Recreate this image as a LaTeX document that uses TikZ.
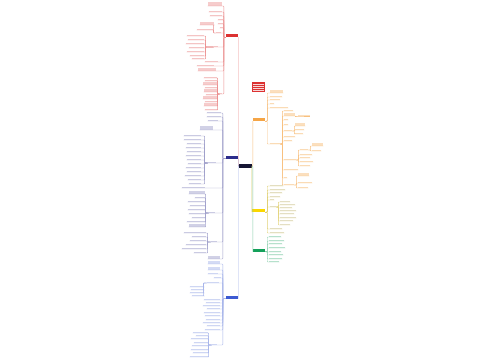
\documentclass[tikz,border=0pt]{standalone}
\usepackage{tikz}
\definecolor{mm_ctr}{RGB}{22,22,52}
\definecolor{mm_red}{RGB}{220,50,50}
\definecolor{mm_ind}{RGB}{45,45,140}
\definecolor{mm_blu}{RGB}{60,90,210}
\definecolor{mm_org}{RGB}{245,165,70}
\definecolor{mm_yel}{RGB}{250,215,0}
\definecolor{mm_grn}{RGB}{20,160,90}
\tikzstyle{ctr}=[fill=mm_ctr,inner sep=0pt,minimum width=13pt,minimum height=4.5pt]
\tikzstyle{br}=[inner sep=0pt,minimum width=12pt,minimum height=3pt]
\tikzstyle{lf}=[inner sep=0pt,minimum height=1.3pt]
\tikzstyle{lfl}=[lf,anchor=south east]
\tikzstyle{lfr}=[lf,anchor=south west]
\tikzstyle{ln}=[line width=0.4pt,rounded corners=0.6pt]

\begin{document}
\begin{tikzpicture}[x=1pt,y=-1pt]
    \fill[white] (0,0) rectangle (500,360);
    \useasboundingbox (0,0) rectangle (500,360);
    % centre and main branches
    \node [style=ctr] (ctr) at (245.5,166) {};
    \node [style=br,fill=mm_red] (red) at (232,35.5) {};
    \node [style=br,fill=mm_ind] (ind) at (232,157) {};
    \node [style=br,fill=mm_blu] (blu) at (232,297) {};
    \node [style=br,fill=mm_org] (org) at (259,119.5) {};
    \node [style=br,fill=mm_yel,minimum width=13pt] (yel) at (258.5,210.5) {};
    \node [style=br,fill=mm_grn] (grn) at (259,250) {};
    \node [inner sep=0pt,fill=mm_red,minimum width=13pt,minimum height=10pt] (pic) at (258.5,87) {};
    \foreach \y in {84,86,88,90} \draw[white!80!mm_red,line width=0.3pt] ([xshift=1.5pt]pic.west|-0,\y) -- ([xshift=-1.5pt]pic.east|-0,\y);
    \draw [ln,draw=mm_red!55] (ctr.west) -| (red.south east);
    \draw [ln,draw=mm_ind!45] (ctr.west) -| (ind.south east);
    \draw [ln,draw=mm_blu!45] (ctr.west) -| (blu.south east);
    \draw [ln,draw=mm_org!70] (ctr.east) -| (org.south west);
    \draw [ln,draw=mm_yel!80!black!60] (ctr.east) -| (yel.south west);
    \draw [ln,draw=mm_grn!50] (ctr.east) -| (grn.south west);
    % red branch
    \foreach \y/\x/\w/\h [count=\i] in {6/222/14/4,12/222/13/1.3,16/222/12/1.3,20/223/5/1.3,24/223/5/1.3,28/223/3/1.3,62/218/13/1.3,66/214/17/1.3,71/216/18/3}{
        \node [lfl,fill=mm_red!25,minimum width=\w pt,minimum height=\h pt] (r\i) at (\x,\y) {};
        \draw [ln,draw=mm_red!55] (red.south west) -- ++(-2,0) |- (r\i.south east) -- (r\i.south west);
    }
    \node [lfl,fill=mm_red!25,minimum width=5pt] (ra) at (221,33) {};
    \node [lfl,fill=mm_red!25,minimum width=4pt] (rb) at (218,47) {};
    \node [lfl,fill=mm_red!25,minimum width=2pt] (rc) at (222,94) {};
    \foreach \s in {ra,rb,rc} \draw [ln,draw=mm_red!55] (red.south west) -- ++(-2,0) |- (\s.south east) -- (\s.south west);
    \foreach \y/\x/\w/\h [count=\i] in {25/214/14/3,30/213/16/1.3}{
        \node [lfl,fill=mm_red!25,minimum width=\w pt,minimum height=\h pt] (ra\i) at (\x,\y) {};
        \draw [ln,draw=mm_red!55] (ra.south west) -- ++(-2,0) |- (ra\i.south east) -- (ra\i.south west);
    }
    \foreach \y/\w [count=\i] in {36/17,40/16,44/18,48/15,52/17,56/14,59/12}{
        \node [lfl,fill=mm_red!25,minimum width=\w pt] (rb\i) at (204,\y) {};
        \draw [ln,draw=mm_red!55] (rb.south west) -- ++(-8,0) |- (rb\i.south east) -- (rb\i.south west);
    }
    \foreach \y/\w/\h [count=\i] in {78/13/1.3,81/12/1.3,85/14/3,88/12/1.3,92/13/3,95/11/1.3,99/14/3,102/12/1.3,106/13/3,110/12/1.3}{
        \node [lfl,fill=mm_red!25,minimum width=\w pt,minimum height=\h pt] (rc\i) at (217,\y) {};
        \draw [ln,draw=mm_red!55] (rc.south west) -- ++(-2,0) |- (rc\i.south east) -- (rc\i.south west);
    }
    % indigo branch
    \foreach \y/\x/\w/\h [count=\i] in {113/221/14/1.3,117/221/14/1.3,121/218/10/1.3,130/213/13/3.5,188/205/23/1.3,259/220/12/3}{
        \node [lfl,fill=mm_ind!22,minimum width=\w pt,minimum height=\h pt] (i\i) at (\x,\y) {};
        \draw [ln,draw=mm_ind!45] (ind.south west) -- ++(-3,0) |- (i\i.south east) -- (i\i.south west);
    }
    \node [lfl,fill=mm_ind!22,minimum width=8pt] (ia) at (216,163) {};
    \node [lfl,fill=mm_ind!22,minimum width=6pt] (ib) at (215,213) {};
    \node [lfl,fill=mm_ind!22,minimum width=6pt] (ic) at (217,242) {};
    \foreach \s in {ia,ib,ic} \draw [ln,draw=mm_ind!45] (ind.south west) -- ++(-3,0) |- (\s.south east) -- (\s.south west);
    \foreach \y/\w [count=\i] in {136/17,140/17,144/14,148/15,152/14,156/15,160/14,164/13,168/15,172/14,176/16,180/13,184/12}{
        \node [lfl,fill=mm_ind!22,minimum width=\w pt] (ia\i) at (201,\y) {};
        \draw [ln,draw=mm_ind!45] (ia.south west) -- ++(-3,0) |- (ia\i.south east) -- (ia\i.south west);
    }
    \foreach \y/\w/\h [count=\i] in {194/16/3,198/10/1.3,202/17/1.3,206/15/1.3,210/17/1.3,214/16/1.3,218/13/1.3,222/18/1.3,227/16/3}{
        \node [lfl,fill=mm_ind!22,minimum width=\w pt,minimum height=\h pt] (ib\i) at (205,\y) {};
        \draw [ln,draw=mm_ind!45] (ib.south west) -- ++(-3,0) |- (ib\i.south east) -- (ib\i.south west);
    }
    \foreach \y/\w [count=\i] in {233/22,237/14,241/16,245/20,249/24,253/12}{
        \node [lfl,fill=mm_ind!22,minimum width=\w pt] (ic\i) at (206,\y) {};
        \draw [ln,draw=mm_ind!45] (ic.south west) -- ++(-3,0) |- (ic\i.south east) -- (ic\i.south west);
    }
    % blue branch
    \foreach \y/\x/\w/\h [count=\i] in {264/220/12/3,270/220/12/3,274/218/10/1.3,278/221/7/1.3,300/220/16/1.3,303/220/14/1.3,306/220/17/1.3,309/220/13/1.3,313/220/16/1.3,316/220/15/1.3,320/220/14/1.3,323/220/17/1.3,326/220/13/1.3,330/220/15/1.3}{
        \node [lfl,fill=mm_blu!22,minimum width=\w pt,minimum height=\h pt] (b\i) at (\x,\y) {};
        \draw [ln,draw=mm_blu!45] (blu.south west) -- ++(-3,0) |- (b\i.south east) -- (b\i.south west);
    }
    \node [lfl,fill=mm_blu!22,minimum width=12pt] (ba) at (219,283) {};
    \node [lfl,fill=mm_blu!22,minimum width=5pt] (bb) at (217,345) {};
    \foreach \s in {ba,bb} \draw [ln,draw=mm_blu!45] (blu.south west) -- ++(-3,0) |- (\s.south east) -- (\s.south west);
    \foreach \y/\w [count=\i] in {287/14,290/13,293/14,296/12}{
        \node [lfl,fill=mm_blu!22,minimum width=\w pt] (ba\i) at (204,\y) {};
        \draw [ln,draw=mm_blu!45] (ba.south west) -- ++(-3,0) |- (ba\i.south east) -- (ba\i.south west);
    }
    \foreach \y/\w [count=\i] in {333/15,336/12,339/17,343/14,346/16,350/17,353/15,357/18}{
        \node [lfl,fill=mm_blu!22,minimum width=\w pt] (bb\i) at (208,\y) {};
        \draw [ln,draw=mm_blu!45] (bb.south west) -- ++(-3,0) |- (bb\i.south east) -- (bb\i.south west);
    }
    % orange branch
    \foreach \y/\w/\h [count=\i] in {93/13/3,97/12/1.3,100/10/1.3,104/4/1.3,108/18/1.3}{
        \node [lfr,fill=mm_org!35,minimum width=\w pt,minimum height=\h pt] (o\i) at (270,\y) {};
        \draw [ln,draw=mm_org!70] (org.south east) -- ++(2,0) |- (o\i.south west) -- (o\i.south east);
    }
    \node [lfr,fill=mm_org!35,minimum width=10pt] (oa) at (270,144) {};
    \draw [ln,draw=mm_org!70] (org.south east) -- ++(2,0) |- (oa.south west) -- (oa.south east);
    \foreach \y/\w/\h [count=\i] in {111/9/1.3,116/11/3,120/4/1.3,125/4/1.3,137/11/1.3,141/8/1.3,170/14/1.3,178/3/1.3}{
        \node [lfr,fill=mm_org!35,minimum width=\w pt,minimum height=\h pt] (oa\i) at (284,\y) {};
        \draw [ln,draw=mm_org!70] (oa.south east) -- ++(2,0) |- (oa\i.south west) -- (oa\i.south east);
    }
    \node [lfr,fill=mm_org!35,minimum width=8pt] (ob) at (284,131) {};
    \node [lfr,fill=mm_org!35,minimum width=12pt] (oc) at (284,160) {};
    \node [lfr,fill=mm_org!35,minimum width=10pt] (oe) at (284,185) {};
    \foreach \s in {ob,oc,oe} \draw [ln,draw=mm_org!70] (oa.south east) -- ++(2,0) |- (\s.south west) -- (\s.south east);
    \node [lfr,fill=mm_org!35,minimum width=12pt] (of) at (298,116) {};
    \draw [ln,draw=mm_org!70] (oa2.south east) -- (of.south west) -- (of.south east);
    \foreach \y/\w/\h [count=\i] in {126/10/3,130/9/1.3,134/8/1.3}{
        \node [lfr,fill=mm_org!35,minimum width=\w pt,minimum height=\h pt] (ob\i) at (295,\y) {};
        \draw [ln,draw=mm_org!70] (ob.south east) -- ++(2,0) |- (ob\i.south west) -- (ob\i.south east);
    }
    \foreach \y/\w [count=\i] in {150/8,155/12,158/10,162/13,166/10}{
        \node [lfr,fill=mm_org!35,minimum width=\w pt] (oc\i) at (300,\y) {};
        \draw [ln,draw=mm_org!70] (oc.south east) -- ++(2,0) |- (oc\i.south west) -- (oc\i.south east);
    }
    \foreach \y/\w/\h [count=\i] in {146/11/3,151/9/1.3}{
        \node [lfr,fill=mm_org!35,minimum width=\w pt,minimum height=\h pt] (od\i) at (312,\y) {};
        \draw [ln,draw=mm_org!70] (oc1.south east) -- ++(2,0) |- (od\i.south west) -- (od\i.south east);
    }
    \foreach \y/\w/\h [count=\i] in {176/11/3,183/14/1.3,188/10/1.3}{
        \node [lfr,fill=mm_org!35,minimum width=\w pt,minimum height=\h pt] (oe\i) at (298,\y) {};
        \draw [ln,draw=mm_org!70] (oe.south east) -- ++(2,0) |- (oe\i.south west) -- (oe\i.south east);
    }
    % yellow branch
    \foreach \y/\w [count=\i] in {186/13,190/15,193/12,197/10,200/4,229/12,233/14}{
        \node [lfr,fill=mm_yel!30!gray!30,minimum width=\w pt] (y\i) at (270,\y) {};
        \draw [ln,draw=mm_yel!80!black!60] (yel.south east) -- ++(2,0) |- (y\i.south west) -- (y\i.south east);
    }
    \node [lfr,fill=mm_yel!30!gray!30,minimum width=6pt] (ya) at (270,207) {};
    \draw [ln,draw=mm_yel!80!black!60] (yel.south east) -- ++(2,0) |- (ya.south west) -- (ya.south east);
    \foreach \y/\w [count=\i] in {202/10,205/15,208/12,211/16,214/14,218/16,221/13,225/10}{
        \node [lfr,fill=mm_yel!30!gray!30,minimum width=\w pt] (ya\i) at (280,\y) {};
        \draw [ln,draw=mm_yel!80!black!50] (ya.south east) -- ++(2,0) |- (ya\i.south west) -- (ya\i.south east);
    }
    % green branch
    \foreach \y/\w [count=\i] in {237/12,241/15,244/13,248/16,252/12,255/14,259/13,262/10}{
        \node [lfr,fill=mm_grn!28,minimum width=\w pt] (g\i) at (269,\y) {};
        \draw [ln,draw=mm_grn!50] (grn.south east) -- ++(2,0) |- (g\i.south west) -- (g\i.south east);
    }
\end{tikzpicture}
\end{document}
